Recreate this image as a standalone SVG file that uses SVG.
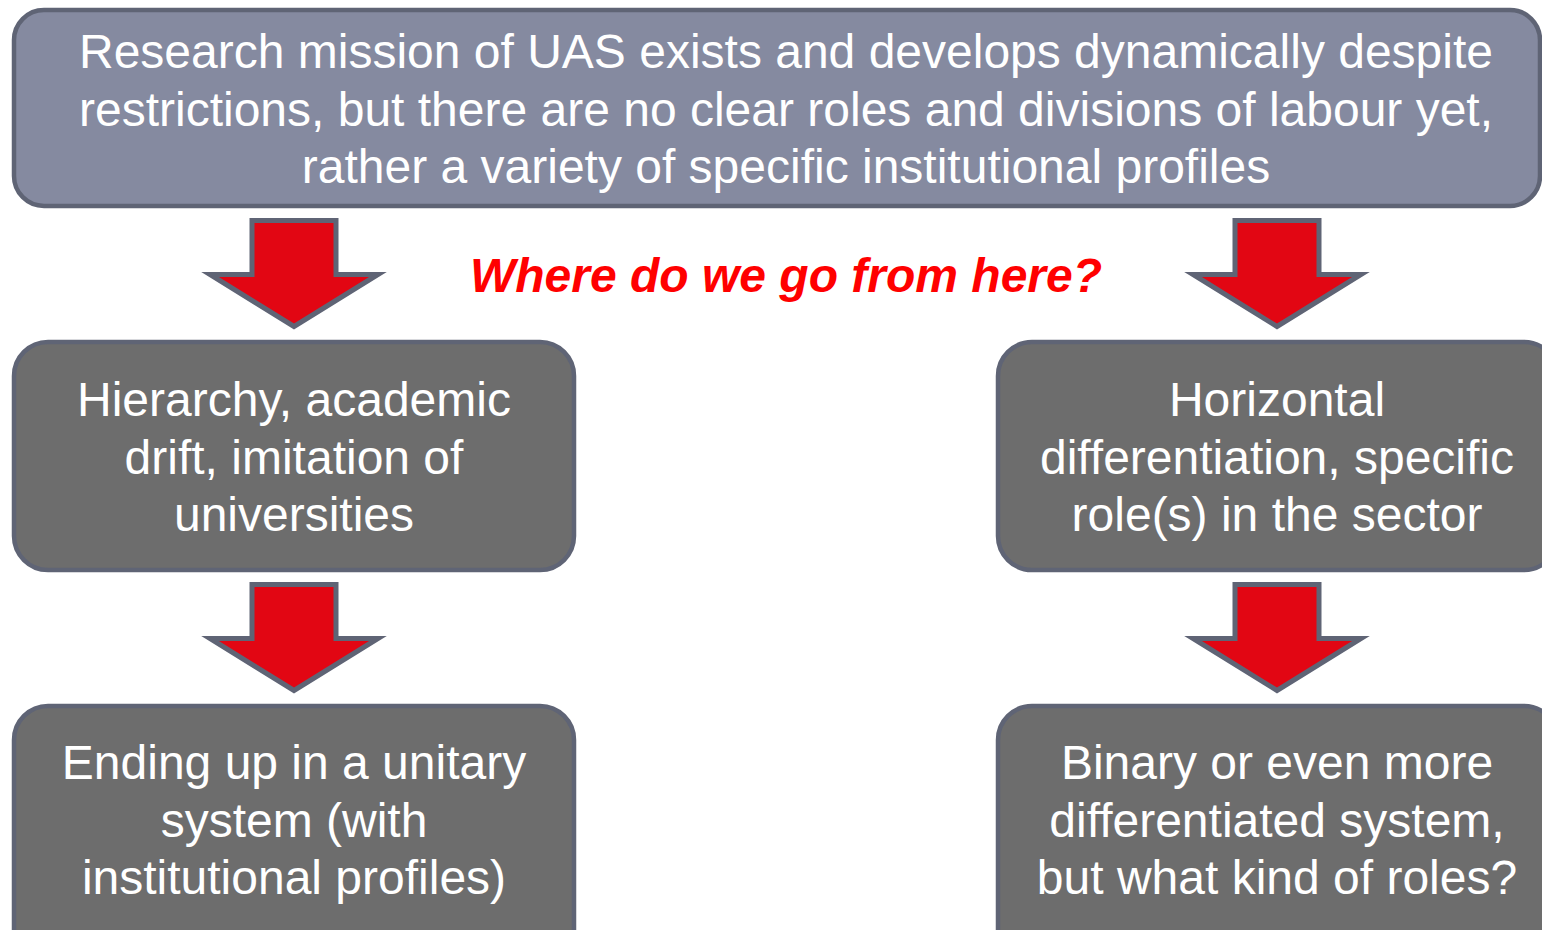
<svg xmlns="http://www.w3.org/2000/svg" width="1542" height="930" viewBox="0 0 1542 930">
<style>
.box{stroke:#5f6475;stroke-width:4.5}
.top{fill:#858aa0}
.mid{fill:#6d6d6d}
.t{font-family:"Liberation Sans",Arial,sans-serif;font-size:48px;fill:#ffffff;text-anchor:middle}
.q{font-family:"Liberation Sans",Arial,sans-serif;font-size:48px;font-weight:bold;font-style:italic;fill:#ff0000;text-anchor:middle}
.arr{fill:#e20613;stroke:#5f6475;stroke-width:5;stroke-linejoin:miter}
</style>
<defs>
<polygon id="arrow" points="-42,0 42,0 42,54 84,54 0,106 -84,54 -42,54"/>
</defs>
<rect width="1542" height="930" fill="#ffffff"/>
<g id="top">
<rect class="box top" x="14" y="10" width="1526" height="196" rx="30"/>
<text class="t" x="786" y="68">Research mission of UAS exists and develops dynamically despite</text>
<text class="t" x="786" y="126">restrictions, but there are no clear roles and divisions of labour yet,</text>
<text class="t" x="786" y="183">rather a variety of specific institutional profiles</text>
</g>
<g id="question">
<text class="q" x="786" y="292">Where do we go from here?</text>
</g>
<g id="connectors">
<use href="#arrow" class="arr" x="294" y="220.5"/>
<use href="#arrow" class="arr" x="1277" y="220.5"/>
<use href="#arrow" class="arr" x="294" y="584.5"/>
<use href="#arrow" class="arr" x="1277" y="584.5"/>
</g>
<g id="left-mid">
<rect class="box mid" x="14" y="342" width="560" height="228" rx="34"/>
<text class="t" x="294" y="416">Hierarchy, academic</text>
<text class="t" x="294" y="474">drift, imitation of</text>
<text class="t" x="294" y="531">universities</text>
</g>
<g id="right-mid">
<rect class="box mid" x="998" y="342" width="560" height="228" rx="34"/>
<text class="t" x="1277" y="416">Horizontal</text>
<text class="t" x="1277" y="474">differentiation, specific</text>
<text class="t" x="1277" y="531">role(s) in the sector</text>
</g>
<g id="left-bottom">
<rect class="box mid" x="14" y="706" width="560" height="260" rx="34"/>
<text class="t" x="294" y="779">Ending up in a unitary</text>
<text class="t" x="294" y="837">system (with</text>
<text class="t" x="294" y="894">institutional profiles)</text>
</g>
<g id="right-bottom">
<rect class="box mid" x="998" y="706" width="560" height="260" rx="34"/>
<text class="t" x="1277" y="779">Binary or even more</text>
<text class="t" x="1277" y="837">differentiated system,</text>
<text class="t" x="1277" y="894">but what kind of roles?</text>
</g>
</svg>
